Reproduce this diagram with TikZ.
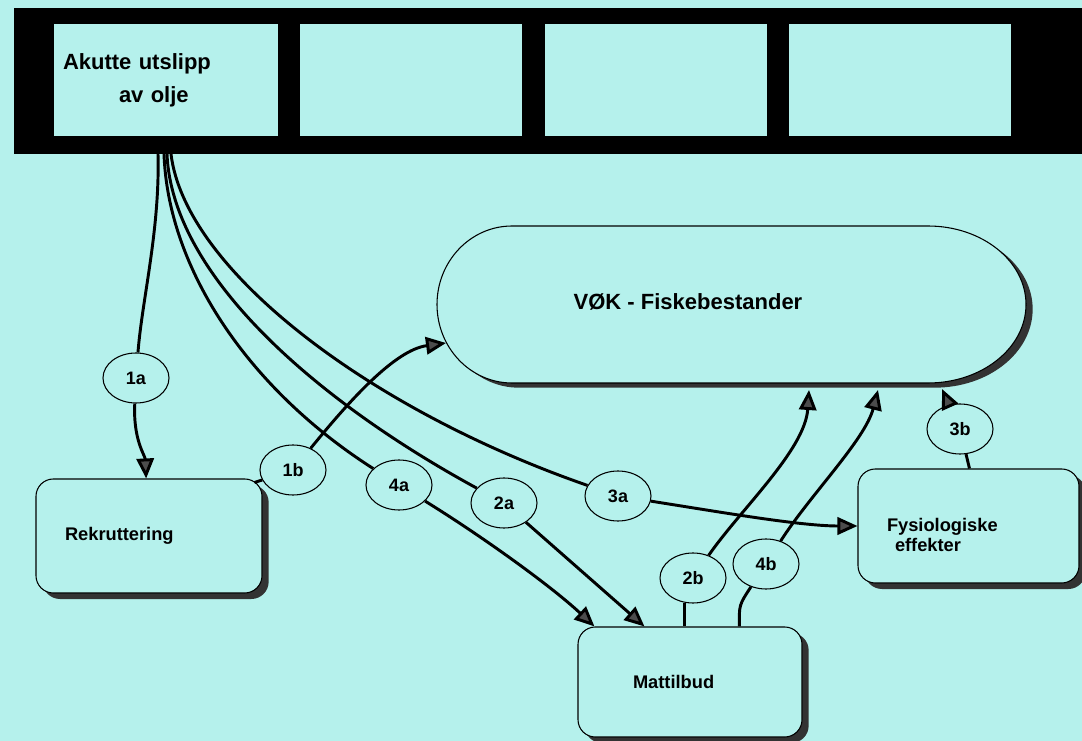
\documentclass[tikz,border=0pt]{standalone}
\usepackage{fontspec}
\setmainfont{Liberation Sans}
\usetikzlibrary{arrows.meta,shapes.geometric,shadows}
\definecolor{seacyan}{RGB}{181,241,236}

\begin{document}
\begin{tikzpicture}[x=0.75pt,y=-0.75pt,>={Triangle[length=15pt,width=13pt,fill=black!70]},
  every node/.style={font=\bfseries},
  panel/.style={fill=seacyan,minimum width=166.5pt,minimum height=84pt,inner sep=0pt},
  effectbox/.style={draw,line width=0.8pt,fill=seacyan,rounded corners=13pt,align=left,
    font=\fontsize{13.7pt}{15pt}\selectfont\bfseries,
    drop shadow={shadow xshift=5pt,shadow yshift=-4.5pt,fill=black!80,opacity=1}},
  numtag/.style={draw,ellipse,line width=0.8pt,fill=seacyan,minimum width=49.5pt,minimum height=37.5pt,
    inner sep=0pt,font=\fontsize{13.5pt}{15pt}\selectfont\bfseries},
  link/.style={line width=2.2pt}]
\useasboundingbox (0,0) rectangle (1082,741);
\fill[seacyan] (0,0) rectangle (1082,741);
% top bar
\fill (14,8) rectangle (1082,154);
\node[panel,minimum width=168pt,text width=154.5pt,align=left,inner xsep=6.75pt,
  font=\fontsize{16.5pt}{24.75pt}\selectfont\bfseries] (spill) at (166,80) {Akutte utslipp\\\hspace*{42pt}av olje};
\node[panel] (frame2) at (411,80) {};
\node[panel] (frame3) at (656,80) {};
\node[panel] (frame4) at (900,80) {};
\coordinate (s1) at (158,154);
\coordinate (s2) at (164,154);
\coordinate (s3) at (167,154);
\coordinate (s4) at (171,154);
% fish stocks
\draw[line width=0.8pt,fill=seacyan,drop shadow={shadow xshift=5pt,shadow yshift=-3.5pt,fill=black!80,opacity=1}]
  (512,226) -- (928,226) arc[start angle=-90,end angle=90,x radius=98,y radius=78.5]
  -- (512,383) arc[start angle=90,end angle=270,x radius=75,y radius=78.5] -- cycle;
\node[font=\fontsize{16.5pt}{20pt}\selectfont\bfseries] (vok) at (688,302) {VØK - Fiskebestander};
\coordinate (v1b) at (446,343);
\coordinate (v2b) at (809,390);
\coordinate (v4b) at (878,390);
\coordinate (v3b) at (942,389);
% effect boxes
\node[effectbox,minimum width=169.5pt,minimum height=85.5pt,text width=126pt,inner xsep=21.75pt] (rek) at (149,536) {Rekruttering};
\node[effectbox,minimum width=168pt,minimum height=82.5pt,text width=85.5pt,inner xsep=41.25pt] (mat) at (690,682) {Mattilbud};
\node[effectbox,minimum width=165.75pt,minimum height=85.5pt,text width=122.25pt,inner xsep=21.75pt] (fys) at (968.5,526) {\rule{0pt}{24pt}Fysiologiske\\\hspace*{6pt}effekter};
% labels
\node[numtag] (l1a) at (136,378) {1a};
\node[numtag] (l1b) at (293,470) {1b};
\node[numtag] (l4a) at (399,485) {4a};
\node[numtag] (l2a) at (504,503) {2a};
\node[numtag] (l3a) at (618,496) {3a};
\node[numtag] (l2b) at (693,578) {2b};
\node[numtag] (l4b) at (766,564) {4b};
\node[numtag] (l3b) at (960,429) {3b};
% connectors
\draw[link] (s1) .. controls (160,230) and (142,300) .. (l1a);
\draw[link,->] (l1a) .. controls (133,440) and (145,455) .. (rek);
\draw[link] ([shift={(-8,4)}]rek.north east) -- (l1b);
\draw[link,->] (l1b) .. controls (350,400) and (395,350) .. (v1b);
\draw[link] (s2) .. controls (168,270) and (250,390) .. (l4a);
\draw[link,->] (l4a) .. controls (480,535) and (550,585) .. ([shift={(17,0)}]mat.north west);
\draw[link] (s3) .. controls (172,275) and (315,400) .. (l2a);
\draw[link,->] (l2a) -- ([shift={(67,0)}]mat.north west);
\draw[link] (s4) .. controls (185,270) and (370,410) .. (l3a);
\draw[link,->] (l3a) .. controls (720,512) and (800,526) .. (fys);
\draw[link] (l2b.250) -- (l2b.250 |- mat.north);
\draw[link,->] (l2b) .. controls (740,510) and (805,450) .. (v2b);
\draw[link] ([shift={(162,0)}]mat.north west) .. controls (739,605) .. (l4b);
\draw[link,->] (l4b) .. controls (810,495) and (865,440) .. (v4b);
\draw[link] ([shift={(112,0)}]fys.north west) -- (l3b);
\draw[link,->] (l3b) -- (v3b);
\end{tikzpicture}
\end{document}
